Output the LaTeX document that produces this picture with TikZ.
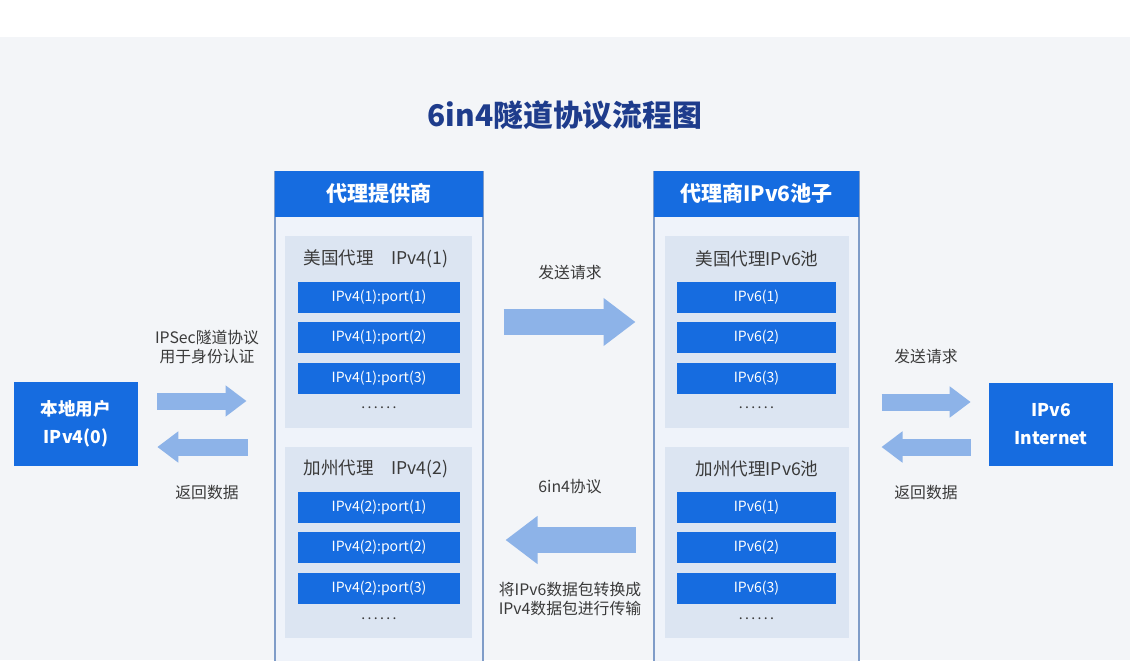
\documentclass[tikz,border=0pt]{standalone}
\usepackage{fontspec}
\setmainfont{Noto Sans CJK SC}
\usetikzlibrary{arrows.meta,calc}
\definecolor{bgc}{HTML}{F3F5F8}
\definecolor{boxc}{HTML}{166CE0}
\definecolor{arrc}{HTML}{8DB3E8}
\definecolor{navy}{HTML}{1E3C8C}
\definecolor{panelc}{HTML}{EFF3FA}
\definecolor{subc}{HTML}{DCE5F2}
\definecolor{linec}{HTML}{7F9CC8}
\definecolor{txtc}{HTML}{3A3A3A}
\tikzset{
  endbox/.style={fill=boxc, text=white, minimum width=2.48cm, minimum height=1.68cm,
    align=center, font=\fontsize{10}{16}\selectfont\bfseries},
  panel/.style={draw=linec, line width=0.6pt, fill=panelc, minimum width=#1, minimum height=10.18cm},
  head/.style={fill=boxc, text=white, minimum width=#1, minimum height=0.92cm, anchor=north,
    font=\fontsize{12}{14}\selectfont\bfseries},
  group/.style={fill=subc, minimum width=#1, minimum height=3.84cm},
  bar/.style={fill=boxc, text=white, minimum width=#1, minimum height=0.62cm,
    font=\fontsize{8}{10}\selectfont},
  gtitle/.style={text=txtc, font=\fontsize{10}{12}\selectfont},
  lbl/.style={text=txtc, align=center, font=\fontsize{9}{10.5}\selectfont},
  thin arrow/.style={draw=arrc, line width=0.34cm, -{Triangle[length=0.42cm,width=0.6cm]}},
  fat arrow/.style={draw=arrc, line width=0.52cm, -{Triangle[length=0.64cm,width=0.92cm]}},
}
\begin{document}
\begin{tikzpicture}[x=0.02cm,y=-0.02cm]
\clip (0,0) rectangle (1130,660);
\fill[white] (0,0) rectangle (1130,660);
\fill[bgc] (0,37) rectangle (1130,660);
\node[text=navy, font=\fontsize{17}{20}\selectfont\bfseries] (title) at (565,115) {6in4隧道协议流程图};

% end points
\node[endbox] (user) at (76,424) {本地用户\\IPv4(0)};
\node[endbox] (inet) at (1051,424.5) {IPv6\\Internet};

% provider panel
\node[panel=4.16cm] (prov) at (379,425.5) {};
\node[head=4.16cm] (provh) at (prov.north) {代理提供商};
\node[group=3.74cm] (us4) at (378.5,332) {};
\node[group=3.74cm] (ca4) at (378.5,542.5) {};
\node[gtitle] at (376,259) {美国代理\quad IPv4(1)};
\node[gtitle] at (376,469) {加州代理\quad IPv4(2)};

% IPv6 pool panel
\node[panel=4.1cm] (pool) at (756.5,425.5) {};
\node[head=4.1cm] (poolh) at (pool.north) {代理商IPv6池子};
\node[group=3.68cm] (us6) at (757,332) {};
\node[group=3.68cm] (ca6) at (757,542.5) {};
\node[gtitle] at (757,259) {美国代理IPv6池};
\node[gtitle] at (757,469) {加州代理IPv6池};

\foreach \i/\y in {1/297.5,2/337.5,3/378.5}{
  \node[bar=3.24cm] (a\i) at (379,\y) {IPv4(1):port(\i)};
  \node[bar=3.24cm] (b\i) at (379,\y+210) {IPv4(2):port(\i)};
  \node[bar=3.18cm] (c\i) at (756.5,\y) {IPv6(\i)};
  \node[bar=3.18cm] (d\i) at (756.5,\y+210) {IPv6(\i)};
}
\foreach \x/\y in {379/408,379/619,756.5/408,756.5/619}
  \node[text=txtc, font=\fontsize{8}{10}\selectfont] at (\x,\y) {.\,.\,.\,.\,.\,.};

% arrows
\draw[thin arrow, shorten <=0.38cm, shorten >=0.56cm] (user.east |- 0,401) -- (prov.west |- 0,401);
\draw[thin arrow, shorten <=0.54cm, shorten >=0.38cm] (prov.west |- 0,447) -- (user.east |- 0,447);
\draw[fat arrow, shorten <=0.4cm, shorten >=0.36cm] (prov.east |- 0,322) -- (pool.west |- 0,322);
\draw[fat arrow, shorten <=0.36cm, shorten >=0.44cm] (pool.west |- 0,540) -- (prov.east |- 0,540);
\draw[thin arrow, shorten <=0.44cm, shorten >=0.36cm] (pool.east |- 0,402) -- (inet.west |- 0,402);
\draw[thin arrow, shorten <=0.36cm, shorten >=0.44cm] (inet.west |- 0,447) -- (pool.east |- 0,447);

% labels
\node[lbl] at (207,347) {IPSec隧道协议\\用于身份认证};
\node[lbl] at (207,493) {返回数据};
\node[lbl] at (570,272) {发送请求};
\node[lbl] at (570,487) {6in4协议};
\node[lbl] at (570,599) {将IPv6数据包转换成\\IPv4数据包进行传输};
\node[lbl] at (926,356) {发送请求};
\node[lbl] at (926,493) {返回数据};
\end{tikzpicture}
\end{document}
